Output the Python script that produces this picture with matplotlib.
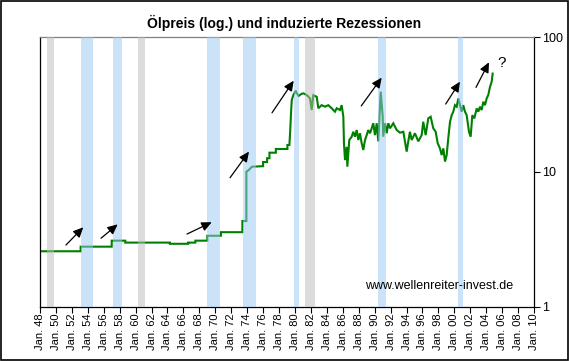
import matplotlib
matplotlib.use('Agg')
import matplotlib.pyplot as plt
from matplotlib.patches import Rectangle
from matplotlib.ticker import FixedLocator, NullLocator

plt.rcParams['font.family'] = ['Liberation Sans', 'DejaVu Sans']

# oil price (USD, log scale)
years = [1948.0, 1953.1, 1953.1, 1957.0, 1957.0, 1958.7, 1958.7, 1964.3, 1964.3,
         1966.6, 1966.6, 1967.5, 1967.5, 1969.0, 1969.0, 1970.7, 1970.7, 1973.4,
         1973.4, 1973.9, 1973.9, 1974.2, 1974.6, 1976.0, 1976.0, 1976.5, 1976.5,
         1976.8, 1976.8, 1977.6, 1977.6, 1979.05, 1979.05, 1979.3, 1979.4, 1979.5,
         1979.6, 1979.8, 1980.1, 1980.2, 1980.45, 1980.8, 1981.05, 1981.47, 1981.89,
         1982.1, 1982.3, 1982.73, 1982.93, 1983.35, 1983.77, 1984.18, 1984.61,
         1985.02, 1985.24, 1985.65, 1985.86, 1986.07, 1986.15, 1986.28, 1986.49,
         1986.57, 1986.82, 1987.12, 1987.32, 1987.53, 1987.75, 1987.95, 1988.16,
         1988.37, 1988.58, 1988.79, 1989.0, 1989.2, 1989.42, 1989.63, 1989.83,
         1990.04, 1990.26, 1990.46, 1990.67, 1990.76, 1991.01, 1991.08, 1991.3,
         1991.51, 1991.71, 1991.93, 1992.34, 1992.77, 1993.18, 1993.6, 1994.02,
         1994.22, 1994.43, 1994.65, 1995.06, 1995.48, 1995.9, 1996.1, 1996.4,
         1996.73, 1997.03, 1997.36, 1997.66, 1997.91, 1998.2, 1998.41, 1998.62,
         1998.83, 1999.04, 1999.24, 1999.46, 1999.67, 1999.87, 2000.08, 2000.3,
         2000.5, 2000.71, 2000.92, 2001.12, 2001.34, 2001.55, 2001.84, 2002.05,
         2002.26, 2002.51, 2002.81, 2003.01, 2003.22, 2003.43, 2003.64, 2003.85,
         2004.06, 2004.26, 2004.48, 2004.69, 2004.81]
prices = [2.57, 2.57, 2.78, 2.78, 3.08, 3.08, 2.98, 2.98, 2.92,
          2.92, 2.98, 2.98, 3.08, 3.08, 3.35, 3.35, 3.56, 3.56,
          4.31, 4.31, 10.0, 10.3, 10.9, 11.0, 11.8, 11.8, 12.6,
          12.6, 13.85, 13.85, 14.75, 14.75, 15.8, 15.8, 20.0, 27.0,
          34.1, 37.1, 40.0, 38.5, 36.5, 37.8, 38.2, 37.1, 35.1,
          28.7, 37.0, 36.0, 29.6, 31.2, 30.4, 31.2, 29.6,
          27.9, 29.6, 28.7, 31.2, 25.6, 16.3, 12.2, 15.3,
          10.9, 17.2, 18.2, 19.8, 18.2, 20.4, 17.2, 19.3,
          16.3, 14.5, 17.2, 18.7, 20.4, 19.3, 21.0, 22.9,
          18.7, 22.9, 16.8, 30.4, 39.3, 25.6, 18.2, 22.9,
          19.3, 22.9, 21.0, 22.9, 20.4, 19.5, 19.8, 14.1,
          16.8, 19.8, 17.2, 19.3, 16.8, 18.7, 23.5, 18.7,
          24.9, 25.6, 21.0, 19.8, 16.3, 14.9, 13.3, 14.9,
          11.9, 13.3, 17.7, 23.5, 26.3, 27.9, 31.2, 30.4,
          35.0, 31.2, 27.9, 31.2, 27.9, 26.3, 19.8, 18.2,
          26.3, 24.9, 29.5, 27.9, 30.4, 28.7, 33.1, 31.2,
          35.0, 37.1, 42.7, 46.6, 53.5]

# recession bands (start, end, kind)
band_start = [1948.92, 1953.15, 1957.16, 1960.3, 1968.96, 1973.48, 1979.88, 1981.26, 1990.42, 2000.42]
band_end = [1949.76, 1954.61, 1958.25, 1961.18, 1970.59, 1975.07, 1980.5, 1982.51, 1991.42, 2001.05]
band_kind = ['g', 'b', 'b', 'g', 'b', 'b', 'b', 'g', 'b', 'b']

# arrows: (x_tail, y_tail, x_tip, y_tip)
arrows = [(1951.26, 2.86, 1953.43, 3.87),
          (1955.66, 3.21, 1957.75, 4.07),
          (1966.45, 3.45, 1969.55, 4.22),
          (1971.85, 9.03, 1974.23, 14.1),
          (1977.12, 27.4, 1979.84, 47.4),
          (1988.32, 30.8, 1990.88, 49.9),
          (1998.92, 31.8, 2000.71, 46.6),
          (2002.72, 42.3, 2004.35, 64.9)]

tick_years = list(range(1948, 2011, 2))
tick_labels = ['Jan. %02d' % (y % 100) for y in tick_years]

fig = plt.figure(figsize=(5.69, 3.61), dpi=100)
ax = fig.add_axes([40/569, 1-306.5/361, 494/569, 269.5/361])

ax.plot(years, prices, color='#008000', lw=1.5, zorder=2, solid_joinstyle='miter')

for s, e, k in zip(band_start, band_end, band_kind):
    c = '#99c9f5' if k == 'b' else '#bbbbbb'
    ax.axvspan(s, e, color=c, alpha=0.5, lw=0, zorder=3)

for x0, y0, x1, y1 in arrows:
    ax.annotate('', xy=(x1, y1), xytext=(x0, y0),
                arrowprops=dict(arrowstyle='-|>,head_length=0.6,head_width=0.28',
                                color='black', lw=0.9, shrinkA=0, shrinkB=0),
                zorder=5)

ax.text(2006.0, 64, '?', fontsize=11, ha='center', va='center')
ax.text(1998.1, 1.43, 'www.wellenreiter-invest.de', fontsize=9, ha='center', va='center')

ax.set_yscale('log')
ax.set_ylim(1, 100)
ax.set_xlim(1948, 2010)
ax.yaxis.set_major_locator(FixedLocator([1, 10, 100]))
ax.yaxis.set_minor_locator(NullLocator())
ax.set_yticklabels(['1', '10', '100'])
ax.yaxis.tick_right()
ax.tick_params(axis='y', direction='out', length=4, width=0.8, labelsize=9, pad=2)
ax.set_xticks(tick_years)
ax.set_xticklabels(tick_labels, rotation=90, fontsize=8)
ax.tick_params(axis='x', direction='out', length=4, width=0.8, pad=1)

for side in ['left', 'bottom', 'right']:
    ax.spines[side].set_color('black')
    ax.spines[side].set_linewidth(0.9)
ax.spines['top'].set_color('#808080')
ax.spines['top'].set_linewidth(0.9)

fig.text(284.5/569, 1-23/361, 'Ölpreis (log.) und induzierte Rezessionen',
         fontsize=10, fontweight='bold', ha='center', va='center')

fig.patches.append(Rectangle((0.5/569, 1.5/361), 567.5/569, 358.5/361, transform=fig.transFigure,
                             fill=False, edgecolor='black', lw=1.2, zorder=10))

fig.savefig('out.png', dpi=100)
